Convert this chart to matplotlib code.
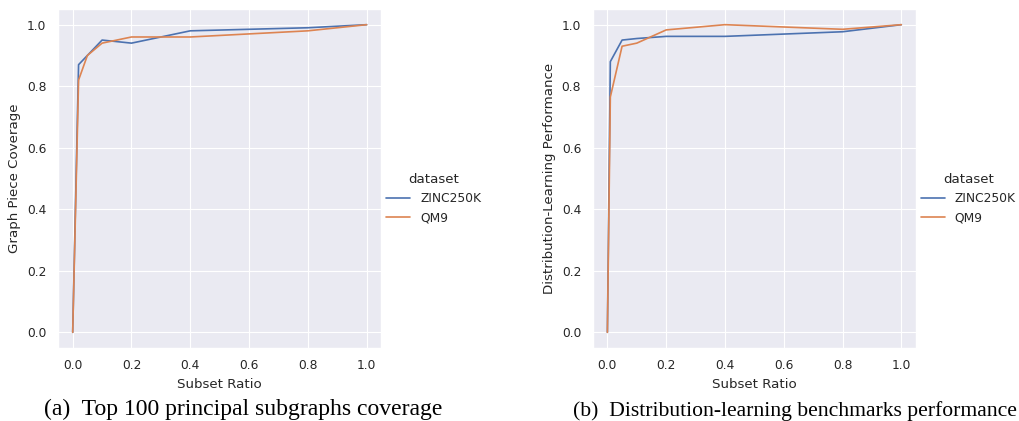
import matplotlib
matplotlib.use("Agg")
import matplotlib.pyplot as plt
import seaborn as sns

sns.set_theme(style="darkgrid", context="paper")

# Data
series_names = ["ZINC250K", "QM9"]
ratio_a = [0, 0.02, 0.05, 0.1, 0.2, 0.4, 0.8, 1.0]
zinc_a = [0.0, 0.87, 0.90, 0.95, 0.94, 0.98, 0.99, 1.0]
qm9_a = [0.0, 0.82, 0.90, 0.94, 0.96, 0.96, 0.98, 1.0]

ratio_b = [0, 0.01, 0.05, 0.1, 0.2, 0.4, 0.8, 1.0]
zinc_b = [0.0, 0.88, 0.95, 0.955, 0.962, 0.962, 0.977, 1.0]
qm9_b = [0.0, 0.765, 0.93, 0.94, 0.983, 1.0, 0.985, 1.0]

xticks = [0.0, 0.2, 0.4, 0.6, 0.8, 1.0]
yticks = [0.0, 0.2, 0.4, 0.6, 0.8, 1.0]
captions = ["(a)  Top 100 principal subgraphs coverage",
            "(b)  Distribution-learning benchmarks performance"]
ylabels = ["Graph Piece Coverage", "Distribution-Learning Performance"]

colors = sns.color_palette("deep")[:2]

fig = plt.figure(figsize=(10.2, 4.21), dpi=100)
W, H = 1020, 421

panels = [
    (ratio_a, zinc_a, qm9_a, 58, 0.3735),
    (ratio_b, zinc_b, qm9_b, 592.7, 0.8978),
]
cap_x = [243 / W, 795 / W]
cap_size = [17.0, 15.6]
cap_base = [415.5, 416.0]

for i, (xs, z, q, left_px, leg_x) in enumerate(panels):
    ax = fig.add_axes([left_px / W, (H - 347.7) / H, 323.3 / W, 338.4 / H])
    l1, = ax.plot(xs, z, color=colors[0], lw=1.2, label=series_names[0])
    l2, = ax.plot(xs, q, color=colors[1], lw=1.2, label=series_names[1])
    ax.set_xticks(xticks)
    ax.set_yticks(yticks)
    ax.set_xticklabels([f"{t:.1f}" for t in xticks])
    ax.set_yticklabels([f"{t:.1f}" for t in yticks])
    ax.set_xlabel("Subset Ratio")
    ax.set_ylabel(ylabels[i])
    fig.legend(handles=[l1, l2], title="dataset", loc="center left",
               bbox_to_anchor=(leg_x, 0.528), frameon=False, borderaxespad=0)
    fig.text(cap_x[i], (H - cap_base[i]) / H, captions[i],
             ha="center", va="baseline", family="Liberation Serif",
             fontsize=cap_size[i], color="black")

fig.savefig("out.png", dpi=100)
